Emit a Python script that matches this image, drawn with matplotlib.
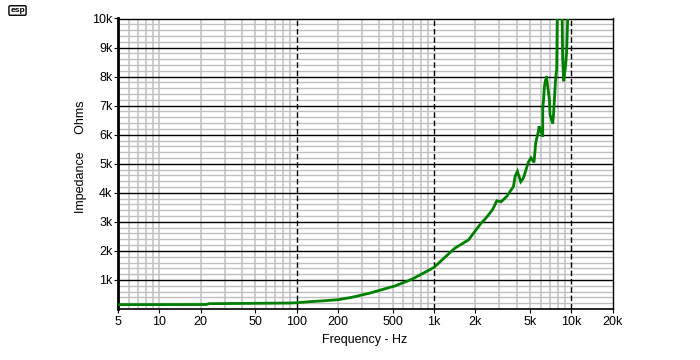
import matplotlib
matplotlib.use("Agg")
import matplotlib.pyplot as plt
from matplotlib.ticker import FixedLocator, FixedFormatter, NullFormatter

plt.rcParams['font.family'] = ['Liberation Sans', 'DejaVu Sans']

# impedance curve
freqs = [5, 22, 23, 90, 100, 125, 160, 200, 253, 337, 520, 692, 1000, 1421, 1788, 2208,
         2360, 2672, 2873, 3087, 3393, 3800, 3902, 4060, 4292, 4490, 4883, 5100, 5362,
         5517, 5772, 5834, 6070, 6206, 6206, 6280, 6383, 6600, 6713, 6942, 7012, 7337,
         7423, 7548, 7711, 7845, 7930, 8580, 8670, 8820, 9120, 9270, 9430]
ohms = [150, 155, 183, 205, 217, 252, 285, 320, 403, 540, 793, 1024, 1430, 2094, 2380, 2956,
        3094, 3415, 3726, 3691, 3875, 4220, 4565, 4737, 4381, 4508, 5060, 5200, 5047,
        5716, 6117, 6290, 6070, 5930, 6930, 7150, 7670, 8015, 7730, 7210, 6690, 6380,
        6635, 7210, 7970, 8245, 10300, 10300, 8660, 7840, 8420, 8870, 9970]

x_ticks = [5, 10, 20, 50, 100, 200, 500, 1000, 2000, 5000, 10000, 20000]
x_labels = ['5', '10', '20', '50', '100', '200', '500', '1k', '2k', '5k', '10k', '20k']
x_grey = [6, 7, 8, 9, 10, 20, 30, 40, 50, 60, 70, 80, 90, 200, 300, 400, 500, 600, 700, 800, 900,
          2000, 3000, 4000, 5000, 6000, 7000, 8000, 9000]
x_dashed = [100, 1000, 10000]

y_ticks = [1000, 2000, 3000, 4000, 5000, 6000, 7000, 8000, 9000, 10000]
y_labels = ['1k', '2k', '3k', '4k', '5k', '6k', '7k', '8k', '9k', '10k']
y_grey = [v for v in range(200, 10000, 200) if v % 1000 != 0]

W, H = 700, 360
fig = plt.figure(figsize=(W / 100, H / 100), dpi=100)
ax = fig.add_axes([118 / W, 1 - 309 / H, 494.5 / W, 290.5 / H])
ax.set_xscale('log')
ax.set_xlim(5, 20000)
ax.set_ylim(0, 10000)

# grid
for v in y_grey:
    ax.axhline(v, color='#c0c0c0', lw=1.0, zorder=1)
for v in x_grey:
    ax.axvline(v, color='#c0c0c0', lw=1.1, zorder=1)
for v in y_ticks[:-1]:
    ax.axhline(v, color='black', lw=1.0, zorder=2)
for v in x_dashed:
    ax.axvline(v, color='black', lw=1.0, ls=(0, (4, 2)), zorder=2)

ax.plot(freqs, ohms, color='#008000', lw=2.0, zorder=3, solid_joinstyle='miter')

ax.xaxis.set_major_locator(FixedLocator(x_ticks))
ax.xaxis.set_major_formatter(FixedFormatter(x_labels))
ax.xaxis.set_minor_formatter(NullFormatter())
ax.xaxis.set_minor_locator(FixedLocator([]))
ax.yaxis.set_major_locator(FixedLocator(y_ticks))
ax.yaxis.set_major_formatter(FixedFormatter(y_labels))
ax.tick_params(axis='both', length=3, width=0.8, labelsize=9, color='black')
ax.tick_params(axis='x', pad=2)
ax.tick_params(axis='y', pad=1)

for s in ['top', 'right', 'bottom']:
    ax.spines[s].set_linewidth(1.0)
ax.spines['bottom'].set_linewidth(1.2)
ax.spines['left'].set_linewidth(2.0)

fig.text(365 / W, 1 - 340 / H, 'Frequency - Hz', ha='center', va='center', fontsize=9)
fig.text(81 / W, 1 - 157 / H, 'Impedance     Ohms', ha='center', va='center', rotation=90, fontsize=9)

# small logo in the corner
fig.text(17.5 / W, 1 - 10.5 / H, 'esp', ha='center', va='center', fontsize=6, fontweight='bold',
         bbox=dict(boxstyle='round,pad=0.15', fc='white', ec='black', lw=1.0))

fig.savefig('out.png', dpi=100)
